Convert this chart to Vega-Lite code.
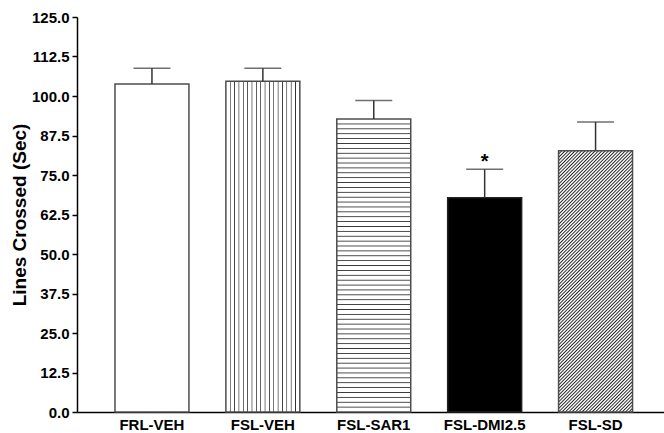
{
  "$schema": "https://vega.github.io/schema/vega-lite/v6.json",
  "width": 587,
  "height": 395,
  "autosize": "none",
  "padding": {"left": 77, "top": 17, "right": 0, "bottom": 21},
  "background": "white",
  "config": {"view": {"stroke": null}, "font": "Liberation Sans"},
  "data": {"values": [
    {"group": "FRL-VEH", "mean": 103.8, "upper": 108.8, "sig": ""},
    {"group": "FSL-VEH", "mean": 104.7, "upper": 108.8, "sig": ""},
    {"group": "FSL-SAR1", "mean": 92.7, "upper": 98.6, "sig": ""},
    {"group": "FSL-DMI2.5", "mean": 67.8, "upper": 76.8, "sig": "*"},
    {"group": "FSL-SD", "mean": 82.7, "upper": 91.8, "sig": ""}
  ]},
  "encoding": {
    "x": {
      "field": "group", "type": "nominal", "sort": null,
      "scale": {"domain": ["FRL-VEH", "FSL-VEH", "FSL-SAR1", "FSL-DMI2.5", "FSL-SD"], "paddingInner": 0.333, "paddingOuter": 0.313, "align": 0.547},
      "axis": {"title": null, "labelAngle": 0, "ticks": false, "labelPadding": 5, "labelFontSize": 15, "labelFontWeight": "bold", "labelColor": "black", "domainColor": "black", "domainWidth": 1.5}
    },
    "y": {"field": "mean", "type": "quantitative", "scale": {"domain": [0, 125], "nice": false},
      "axis": {"title": "Lines Crossed (Sec)", "values": [0, 12.5, 25, 37.5, 50, 62.5, 75, 87.5, 100, 112.5, 125], "format": ".1f", "grid": false, "labelOverlap": false, "labelFontSize": 15, "labelFontWeight": "bold", "labelColor": "black", "labelPadding": 3, "tickColor": "black", "tickSize": 5, "tickWidth": 1.5, "domainColor": "black", "domainWidth": 1.5, "titleFontSize": 19, "titleFontWeight": "bold", "titleColor": "black", "titlePadding": 2}}
  },
  "layer": [
    {
      "transform": [{"filter": "datum.group == 'FRL-VEH'"}],
      "mark": {"type": "bar", "fill": "white", "stroke": "#4d4d4d", "strokeWidth": 1.5}
    },
    {
      "transform": [{"filter": "datum.group == 'FSL-VEH'"}],
      "mark": {"type": "bar", "stroke": "#4d4d4d", "strokeWidth": 1.5,
        "fill": {"gradient": "linear", "x1": 0, "y1": 0, "x2": 1, "y2": 0, "stops": [
          {"offset": 0, "color": "#fff"},
          {"offset": 0.0488, "color": "#fff"}, {"offset": 0.0588, "color": "#333"}, {"offset": 0.0688, "color": "#fff"},
          {"offset": 0.1076, "color": "#fff"}, {"offset": 0.1176, "color": "#333"}, {"offset": 0.1276, "color": "#fff"},
          {"offset": 0.1665, "color": "#fff"}, {"offset": 0.1765, "color": "#333"}, {"offset": 0.1865, "color": "#fff"},
          {"offset": 0.2253, "color": "#fff"}, {"offset": 0.2353, "color": "#333"}, {"offset": 0.2453, "color": "#fff"},
          {"offset": 0.2841, "color": "#fff"}, {"offset": 0.2941, "color": "#333"}, {"offset": 0.3041, "color": "#fff"},
          {"offset": 0.3429, "color": "#fff"}, {"offset": 0.3529, "color": "#333"}, {"offset": 0.3629, "color": "#fff"},
          {"offset": 0.4018, "color": "#fff"}, {"offset": 0.4118, "color": "#333"}, {"offset": 0.4218, "color": "#fff"},
          {"offset": 0.4606, "color": "#fff"}, {"offset": 0.4706, "color": "#333"}, {"offset": 0.4806, "color": "#fff"},
          {"offset": 0.5194, "color": "#fff"}, {"offset": 0.5294, "color": "#333"}, {"offset": 0.5394, "color": "#fff"},
          {"offset": 0.5782, "color": "#fff"}, {"offset": 0.5882, "color": "#333"}, {"offset": 0.5982, "color": "#fff"},
          {"offset": 0.6371, "color": "#fff"}, {"offset": 0.6471, "color": "#333"}, {"offset": 0.6571, "color": "#fff"},
          {"offset": 0.6959, "color": "#fff"}, {"offset": 0.7059, "color": "#333"}, {"offset": 0.7159, "color": "#fff"},
          {"offset": 0.7547, "color": "#fff"}, {"offset": 0.7647, "color": "#333"}, {"offset": 0.7747, "color": "#fff"},
          {"offset": 0.8135, "color": "#fff"}, {"offset": 0.8235, "color": "#333"}, {"offset": 0.8335, "color": "#fff"},
          {"offset": 0.8724, "color": "#fff"}, {"offset": 0.8824, "color": "#333"}, {"offset": 0.8924, "color": "#fff"},
          {"offset": 0.9312, "color": "#fff"}, {"offset": 0.9412, "color": "#333"}, {"offset": 0.9512, "color": "#fff"},
          {"offset": 1, "color": "#fff"}
        ]}}
    },
    {
      "transform": [{"filter": "datum.group == 'FSL-SAR1'"}],
      "mark": {"type": "bar", "stroke": "#4d4d4d", "strokeWidth": 1.5,
        "fill": {"gradient": "linear", "x1": 0, "y1": 0, "x2": 0, "y2": 1, "stops": [
          {"offset": 0, "color": "#fff"},
          {"offset": 0.0137, "color": "#fff"}, {"offset": 0.0167, "color": "#333"}, {"offset": 0.0197, "color": "#fff"},
          {"offset": 0.0303, "color": "#fff"}, {"offset": 0.0333, "color": "#333"}, {"offset": 0.0363, "color": "#fff"},
          {"offset": 0.047, "color": "#fff"}, {"offset": 0.05, "color": "#333"}, {"offset": 0.053, "color": "#fff"},
          {"offset": 0.0637, "color": "#fff"}, {"offset": 0.0667, "color": "#333"}, {"offset": 0.0697, "color": "#fff"},
          {"offset": 0.0803, "color": "#fff"}, {"offset": 0.0833, "color": "#333"}, {"offset": 0.0863, "color": "#fff"},
          {"offset": 0.097, "color": "#fff"}, {"offset": 0.1, "color": "#333"}, {"offset": 0.103, "color": "#fff"},
          {"offset": 0.1137, "color": "#fff"}, {"offset": 0.1167, "color": "#333"}, {"offset": 0.1197, "color": "#fff"},
          {"offset": 0.1303, "color": "#fff"}, {"offset": 0.1333, "color": "#333"}, {"offset": 0.1363, "color": "#fff"},
          {"offset": 0.147, "color": "#fff"}, {"offset": 0.15, "color": "#333"}, {"offset": 0.153, "color": "#fff"},
          {"offset": 0.1637, "color": "#fff"}, {"offset": 0.1667, "color": "#333"}, {"offset": 0.1697, "color": "#fff"},
          {"offset": 0.1803, "color": "#fff"}, {"offset": 0.1833, "color": "#333"}, {"offset": 0.1863, "color": "#fff"},
          {"offset": 0.197, "color": "#fff"}, {"offset": 0.2, "color": "#333"}, {"offset": 0.203, "color": "#fff"},
          {"offset": 0.2137, "color": "#fff"}, {"offset": 0.2167, "color": "#333"}, {"offset": 0.2197, "color": "#fff"},
          {"offset": 0.2303, "color": "#fff"}, {"offset": 0.2333, "color": "#333"}, {"offset": 0.2363, "color": "#fff"},
          {"offset": 0.247, "color": "#fff"}, {"offset": 0.25, "color": "#333"}, {"offset": 0.253, "color": "#fff"},
          {"offset": 0.2637, "color": "#fff"}, {"offset": 0.2667, "color": "#333"}, {"offset": 0.2697, "color": "#fff"},
          {"offset": 0.2803, "color": "#fff"}, {"offset": 0.2833, "color": "#333"}, {"offset": 0.2863, "color": "#fff"},
          {"offset": 0.297, "color": "#fff"}, {"offset": 0.3, "color": "#333"}, {"offset": 0.303, "color": "#fff"},
          {"offset": 0.3137, "color": "#fff"}, {"offset": 0.3167, "color": "#333"}, {"offset": 0.3197, "color": "#fff"},
          {"offset": 0.3303, "color": "#fff"}, {"offset": 0.3333, "color": "#333"}, {"offset": 0.3363, "color": "#fff"},
          {"offset": 0.347, "color": "#fff"}, {"offset": 0.35, "color": "#333"}, {"offset": 0.353, "color": "#fff"},
          {"offset": 0.3637, "color": "#fff"}, {"offset": 0.3667, "color": "#333"}, {"offset": 0.3697, "color": "#fff"},
          {"offset": 0.3803, "color": "#fff"}, {"offset": 0.3833, "color": "#333"}, {"offset": 0.3863, "color": "#fff"},
          {"offset": 0.397, "color": "#fff"}, {"offset": 0.4, "color": "#333"}, {"offset": 0.403, "color": "#fff"},
          {"offset": 0.4137, "color": "#fff"}, {"offset": 0.4167, "color": "#333"}, {"offset": 0.4197, "color": "#fff"},
          {"offset": 0.4303, "color": "#fff"}, {"offset": 0.4333, "color": "#333"}, {"offset": 0.4363, "color": "#fff"},
          {"offset": 0.447, "color": "#fff"}, {"offset": 0.45, "color": "#333"}, {"offset": 0.453, "color": "#fff"},
          {"offset": 0.4637, "color": "#fff"}, {"offset": 0.4667, "color": "#333"}, {"offset": 0.4697, "color": "#fff"},
          {"offset": 0.4803, "color": "#fff"}, {"offset": 0.4833, "color": "#333"}, {"offset": 0.4863, "color": "#fff"},
          {"offset": 0.497, "color": "#fff"}, {"offset": 0.5, "color": "#333"}, {"offset": 0.503, "color": "#fff"},
          {"offset": 0.5137, "color": "#fff"}, {"offset": 0.5167, "color": "#333"}, {"offset": 0.5197, "color": "#fff"},
          {"offset": 0.5303, "color": "#fff"}, {"offset": 0.5333, "color": "#333"}, {"offset": 0.5363, "color": "#fff"},
          {"offset": 0.547, "color": "#fff"}, {"offset": 0.55, "color": "#333"}, {"offset": 0.553, "color": "#fff"},
          {"offset": 0.5637, "color": "#fff"}, {"offset": 0.5667, "color": "#333"}, {"offset": 0.5697, "color": "#fff"},
          {"offset": 0.5803, "color": "#fff"}, {"offset": 0.5833, "color": "#333"}, {"offset": 0.5863, "color": "#fff"},
          {"offset": 0.597, "color": "#fff"}, {"offset": 0.6, "color": "#333"}, {"offset": 0.603, "color": "#fff"},
          {"offset": 0.6137, "color": "#fff"}, {"offset": 0.6167, "color": "#333"}, {"offset": 0.6197, "color": "#fff"},
          {"offset": 0.6303, "color": "#fff"}, {"offset": 0.6333, "color": "#333"}, {"offset": 0.6363, "color": "#fff"},
          {"offset": 0.647, "color": "#fff"}, {"offset": 0.65, "color": "#333"}, {"offset": 0.653, "color": "#fff"},
          {"offset": 0.6637, "color": "#fff"}, {"offset": 0.6667, "color": "#333"}, {"offset": 0.6697, "color": "#fff"},
          {"offset": 0.6803, "color": "#fff"}, {"offset": 0.6833, "color": "#333"}, {"offset": 0.6863, "color": "#fff"},
          {"offset": 0.697, "color": "#fff"}, {"offset": 0.7, "color": "#333"}, {"offset": 0.703, "color": "#fff"},
          {"offset": 0.7137, "color": "#fff"}, {"offset": 0.7167, "color": "#333"}, {"offset": 0.7197, "color": "#fff"},
          {"offset": 0.7303, "color": "#fff"}, {"offset": 0.7333, "color": "#333"}, {"offset": 0.7363, "color": "#fff"},
          {"offset": 0.747, "color": "#fff"}, {"offset": 0.75, "color": "#333"}, {"offset": 0.753, "color": "#fff"},
          {"offset": 0.7637, "color": "#fff"}, {"offset": 0.7667, "color": "#333"}, {"offset": 0.7697, "color": "#fff"},
          {"offset": 0.7803, "color": "#fff"}, {"offset": 0.7833, "color": "#333"}, {"offset": 0.7863, "color": "#fff"},
          {"offset": 0.797, "color": "#fff"}, {"offset": 0.8, "color": "#333"}, {"offset": 0.803, "color": "#fff"},
          {"offset": 0.8137, "color": "#fff"}, {"offset": 0.8167, "color": "#333"}, {"offset": 0.8197, "color": "#fff"},
          {"offset": 0.8303, "color": "#fff"}, {"offset": 0.8333, "color": "#333"}, {"offset": 0.8363, "color": "#fff"},
          {"offset": 0.847, "color": "#fff"}, {"offset": 0.85, "color": "#333"}, {"offset": 0.853, "color": "#fff"},
          {"offset": 0.8637, "color": "#fff"}, {"offset": 0.8667, "color": "#333"}, {"offset": 0.8697, "color": "#fff"},
          {"offset": 0.8803, "color": "#fff"}, {"offset": 0.8833, "color": "#333"}, {"offset": 0.8863, "color": "#fff"},
          {"offset": 0.897, "color": "#fff"}, {"offset": 0.9, "color": "#333"}, {"offset": 0.903, "color": "#fff"},
          {"offset": 0.9137, "color": "#fff"}, {"offset": 0.9167, "color": "#333"}, {"offset": 0.9197, "color": "#fff"},
          {"offset": 0.9303, "color": "#fff"}, {"offset": 0.9333, "color": "#333"}, {"offset": 0.9363, "color": "#fff"},
          {"offset": 0.947, "color": "#fff"}, {"offset": 0.95, "color": "#333"}, {"offset": 0.953, "color": "#fff"},
          {"offset": 0.9637, "color": "#fff"}, {"offset": 0.9667, "color": "#333"}, {"offset": 0.9697, "color": "#fff"},
          {"offset": 0.9803, "color": "#fff"}, {"offset": 0.9833, "color": "#333"}, {"offset": 0.9863, "color": "#fff"},
          {"offset": 1, "color": "#fff"}
        ]}}
    },
    {
      "transform": [{"filter": "datum.group == 'FSL-DMI2.5'"}],
      "mark": {"type": "bar", "fill": "black", "stroke": "#222", "strokeWidth": 1.5}
    },
    {
      "transform": [{"filter": "datum.group == 'FSL-SD'"}],
      "mark": {"type": "bar", "stroke": "#4d4d4d", "strokeWidth": 1.5,
        "fill": {"gradient": "linear", "x1": 0, "y1": 0, "x2": 0.3364, "y2": 1.1866, "stops": [
          {"offset": 0, "color": "#222"}, {"offset": 0.004, "color": "#fff"}, {"offset": 0.006, "color": "#fff"},
          {"offset": 0.01, "color": "#222"}, {"offset": 0.014, "color": "#fff"}, {"offset": 0.016, "color": "#fff"},
          {"offset": 0.02, "color": "#222"}, {"offset": 0.024, "color": "#fff"}, {"offset": 0.026, "color": "#fff"},
          {"offset": 0.03, "color": "#222"}, {"offset": 0.034, "color": "#fff"}, {"offset": 0.036, "color": "#fff"},
          {"offset": 0.04, "color": "#222"}, {"offset": 0.044, "color": "#fff"}, {"offset": 0.046, "color": "#fff"},
          {"offset": 0.05, "color": "#222"}, {"offset": 0.054, "color": "#fff"}, {"offset": 0.056, "color": "#fff"},
          {"offset": 0.06, "color": "#222"}, {"offset": 0.064, "color": "#fff"}, {"offset": 0.066, "color": "#fff"},
          {"offset": 0.07, "color": "#222"}, {"offset": 0.074, "color": "#fff"}, {"offset": 0.076, "color": "#fff"},
          {"offset": 0.08, "color": "#222"}, {"offset": 0.084, "color": "#fff"}, {"offset": 0.086, "color": "#fff"},
          {"offset": 0.09, "color": "#222"}, {"offset": 0.094, "color": "#fff"}, {"offset": 0.096, "color": "#fff"},
          {"offset": 0.1, "color": "#222"}, {"offset": 0.104, "color": "#fff"}, {"offset": 0.106, "color": "#fff"},
          {"offset": 0.11, "color": "#222"}, {"offset": 0.114, "color": "#fff"}, {"offset": 0.116, "color": "#fff"},
          {"offset": 0.12, "color": "#222"}, {"offset": 0.124, "color": "#fff"}, {"offset": 0.126, "color": "#fff"},
          {"offset": 0.13, "color": "#222"}, {"offset": 0.134, "color": "#fff"}, {"offset": 0.136, "color": "#fff"},
          {"offset": 0.14, "color": "#222"}, {"offset": 0.144, "color": "#fff"}, {"offset": 0.146, "color": "#fff"},
          {"offset": 0.15, "color": "#222"}, {"offset": 0.154, "color": "#fff"}, {"offset": 0.156, "color": "#fff"},
          {"offset": 0.16, "color": "#222"}, {"offset": 0.164, "color": "#fff"}, {"offset": 0.166, "color": "#fff"},
          {"offset": 0.17, "color": "#222"}, {"offset": 0.174, "color": "#fff"}, {"offset": 0.176, "color": "#fff"},
          {"offset": 0.18, "color": "#222"}, {"offset": 0.184, "color": "#fff"}, {"offset": 0.186, "color": "#fff"},
          {"offset": 0.19, "color": "#222"}, {"offset": 0.194, "color": "#fff"}, {"offset": 0.196, "color": "#fff"},
          {"offset": 0.2, "color": "#222"}, {"offset": 0.204, "color": "#fff"}, {"offset": 0.206, "color": "#fff"},
          {"offset": 0.21, "color": "#222"}, {"offset": 0.214, "color": "#fff"}, {"offset": 0.216, "color": "#fff"},
          {"offset": 0.22, "color": "#222"}, {"offset": 0.224, "color": "#fff"}, {"offset": 0.226, "color": "#fff"},
          {"offset": 0.23, "color": "#222"}, {"offset": 0.234, "color": "#fff"}, {"offset": 0.236, "color": "#fff"},
          {"offset": 0.24, "color": "#222"}, {"offset": 0.244, "color": "#fff"}, {"offset": 0.246, "color": "#fff"},
          {"offset": 0.25, "color": "#222"}, {"offset": 0.254, "color": "#fff"}, {"offset": 0.256, "color": "#fff"},
          {"offset": 0.26, "color": "#222"}, {"offset": 0.264, "color": "#fff"}, {"offset": 0.266, "color": "#fff"},
          {"offset": 0.27, "color": "#222"}, {"offset": 0.274, "color": "#fff"}, {"offset": 0.276, "color": "#fff"},
          {"offset": 0.28, "color": "#222"}, {"offset": 0.284, "color": "#fff"}, {"offset": 0.286, "color": "#fff"},
          {"offset": 0.29, "color": "#222"}, {"offset": 0.294, "color": "#fff"}, {"offset": 0.296, "color": "#fff"},
          {"offset": 0.3, "color": "#222"}, {"offset": 0.304, "color": "#fff"}, {"offset": 0.306, "color": "#fff"},
          {"offset": 0.31, "color": "#222"}, {"offset": 0.314, "color": "#fff"}, {"offset": 0.316, "color": "#fff"},
          {"offset": 0.32, "color": "#222"}, {"offset": 0.324, "color": "#fff"}, {"offset": 0.326, "color": "#fff"},
          {"offset": 0.33, "color": "#222"}, {"offset": 0.334, "color": "#fff"}, {"offset": 0.336, "color": "#fff"},
          {"offset": 0.34, "color": "#222"}, {"offset": 0.344, "color": "#fff"}, {"offset": 0.346, "color": "#fff"},
          {"offset": 0.35, "color": "#222"}, {"offset": 0.354, "color": "#fff"}, {"offset": 0.356, "color": "#fff"},
          {"offset": 0.36, "color": "#222"}, {"offset": 0.364, "color": "#fff"}, {"offset": 0.366, "color": "#fff"},
          {"offset": 0.37, "color": "#222"}, {"offset": 0.374, "color": "#fff"}, {"offset": 0.376, "color": "#fff"},
          {"offset": 0.38, "color": "#222"}, {"offset": 0.384, "color": "#fff"}, {"offset": 0.386, "color": "#fff"},
          {"offset": 0.39, "color": "#222"}, {"offset": 0.394, "color": "#fff"}, {"offset": 0.396, "color": "#fff"},
          {"offset": 0.4, "color": "#222"}, {"offset": 0.404, "color": "#fff"}, {"offset": 0.406, "color": "#fff"},
          {"offset": 0.41, "color": "#222"}, {"offset": 0.414, "color": "#fff"}, {"offset": 0.416, "color": "#fff"},
          {"offset": 0.42, "color": "#222"}, {"offset": 0.424, "color": "#fff"}, {"offset": 0.426, "color": "#fff"},
          {"offset": 0.43, "color": "#222"}, {"offset": 0.434, "color": "#fff"}, {"offset": 0.436, "color": "#fff"},
          {"offset": 0.44, "color": "#222"}, {"offset": 0.444, "color": "#fff"}, {"offset": 0.446, "color": "#fff"},
          {"offset": 0.45, "color": "#222"}, {"offset": 0.454, "color": "#fff"}, {"offset": 0.456, "color": "#fff"},
          {"offset": 0.46, "color": "#222"}, {"offset": 0.464, "color": "#fff"}, {"offset": 0.466, "color": "#fff"},
          {"offset": 0.47, "color": "#222"}, {"offset": 0.474, "color": "#fff"}, {"offset": 0.476, "color": "#fff"},
          {"offset": 0.48, "color": "#222"}, {"offset": 0.484, "color": "#fff"}, {"offset": 0.486, "color": "#fff"},
          {"offset": 0.49, "color": "#222"}, {"offset": 0.494, "color": "#fff"}, {"offset": 0.496, "color": "#fff"},
          {"offset": 0.5, "color": "#222"}, {"offset": 0.504, "color": "#fff"}, {"offset": 0.506, "color": "#fff"},
          {"offset": 0.51, "color": "#222"}, {"offset": 0.514, "color": "#fff"}, {"offset": 0.516, "color": "#fff"},
          {"offset": 0.52, "color": "#222"}, {"offset": 0.524, "color": "#fff"}, {"offset": 0.526, "color": "#fff"},
          {"offset": 0.53, "color": "#222"}, {"offset": 0.534, "color": "#fff"}, {"offset": 0.536, "color": "#fff"},
          {"offset": 0.54, "color": "#222"}, {"offset": 0.544, "color": "#fff"}, {"offset": 0.546, "color": "#fff"},
          {"offset": 0.55, "color": "#222"}, {"offset": 0.554, "color": "#fff"}, {"offset": 0.556, "color": "#fff"},
          {"offset": 0.56, "color": "#222"}, {"offset": 0.564, "color": "#fff"}, {"offset": 0.566, "color": "#fff"},
          {"offset": 0.57, "color": "#222"}, {"offset": 0.574, "color": "#fff"}, {"offset": 0.576, "color": "#fff"},
          {"offset": 0.58, "color": "#222"}, {"offset": 0.584, "color": "#fff"}, {"offset": 0.586, "color": "#fff"},
          {"offset": 0.59, "color": "#222"}, {"offset": 0.594, "color": "#fff"}, {"offset": 0.596, "color": "#fff"},
          {"offset": 0.6, "color": "#222"}, {"offset": 0.604, "color": "#fff"}, {"offset": 0.606, "color": "#fff"},
          {"offset": 0.61, "color": "#222"}, {"offset": 0.614, "color": "#fff"}, {"offset": 0.616, "color": "#fff"},
          {"offset": 0.62, "color": "#222"}, {"offset": 0.624, "color": "#fff"}, {"offset": 0.626, "color": "#fff"},
          {"offset": 0.63, "color": "#222"}, {"offset": 0.634, "color": "#fff"}, {"offset": 0.636, "color": "#fff"},
          {"offset": 0.64, "color": "#222"}, {"offset": 0.644, "color": "#fff"}, {"offset": 0.646, "color": "#fff"},
          {"offset": 0.65, "color": "#222"}, {"offset": 0.654, "color": "#fff"}, {"offset": 0.656, "color": "#fff"},
          {"offset": 0.66, "color": "#222"}, {"offset": 0.664, "color": "#fff"}, {"offset": 0.666, "color": "#fff"},
          {"offset": 0.67, "color": "#222"}, {"offset": 0.674, "color": "#fff"}, {"offset": 0.676, "color": "#fff"},
          {"offset": 0.68, "color": "#222"}, {"offset": 0.684, "color": "#fff"}, {"offset": 0.686, "color": "#fff"},
          {"offset": 0.69, "color": "#222"}, {"offset": 0.694, "color": "#fff"}, {"offset": 0.696, "color": "#fff"},
          {"offset": 0.7, "color": "#222"}, {"offset": 0.704, "color": "#fff"}, {"offset": 0.706, "color": "#fff"},
          {"offset": 0.71, "color": "#222"}, {"offset": 0.714, "color": "#fff"}, {"offset": 0.716, "color": "#fff"},
          {"offset": 0.72, "color": "#222"}, {"offset": 0.724, "color": "#fff"}, {"offset": 0.726, "color": "#fff"},
          {"offset": 0.73, "color": "#222"}, {"offset": 0.734, "color": "#fff"}, {"offset": 0.736, "color": "#fff"},
          {"offset": 0.74, "color": "#222"}, {"offset": 0.744, "color": "#fff"}, {"offset": 0.746, "color": "#fff"},
          {"offset": 0.75, "color": "#222"}, {"offset": 0.754, "color": "#fff"}, {"offset": 0.756, "color": "#fff"},
          {"offset": 0.76, "color": "#222"}, {"offset": 0.764, "color": "#fff"}, {"offset": 0.766, "color": "#fff"},
          {"offset": 0.77, "color": "#222"}, {"offset": 0.774, "color": "#fff"}, {"offset": 0.776, "color": "#fff"},
          {"offset": 0.78, "color": "#222"}, {"offset": 0.784, "color": "#fff"}, {"offset": 0.786, "color": "#fff"},
          {"offset": 0.79, "color": "#222"}, {"offset": 0.794, "color": "#fff"}, {"offset": 0.796, "color": "#fff"},
          {"offset": 0.8, "color": "#222"}, {"offset": 0.804, "color": "#fff"}, {"offset": 0.806, "color": "#fff"},
          {"offset": 0.81, "color": "#222"}, {"offset": 0.814, "color": "#fff"}, {"offset": 0.816, "color": "#fff"},
          {"offset": 0.82, "color": "#222"}, {"offset": 0.824, "color": "#fff"}, {"offset": 0.826, "color": "#fff"},
          {"offset": 0.83, "color": "#222"}, {"offset": 0.834, "color": "#fff"}, {"offset": 0.836, "color": "#fff"},
          {"offset": 0.84, "color": "#222"}, {"offset": 0.844, "color": "#fff"}, {"offset": 0.846, "color": "#fff"},
          {"offset": 0.85, "color": "#222"}, {"offset": 0.854, "color": "#fff"}, {"offset": 0.856, "color": "#fff"},
          {"offset": 0.86, "color": "#222"}, {"offset": 0.864, "color": "#fff"}, {"offset": 0.866, "color": "#fff"},
          {"offset": 0.87, "color": "#222"}, {"offset": 0.874, "color": "#fff"}, {"offset": 0.876, "color": "#fff"},
          {"offset": 0.88, "color": "#222"}, {"offset": 0.884, "color": "#fff"}, {"offset": 0.886, "color": "#fff"},
          {"offset": 0.89, "color": "#222"}, {"offset": 0.894, "color": "#fff"}, {"offset": 0.896, "color": "#fff"},
          {"offset": 0.9, "color": "#222"}, {"offset": 0.904, "color": "#fff"}, {"offset": 0.906, "color": "#fff"},
          {"offset": 0.91, "color": "#222"}, {"offset": 0.914, "color": "#fff"}, {"offset": 0.916, "color": "#fff"},
          {"offset": 0.92, "color": "#222"}, {"offset": 0.924, "color": "#fff"}, {"offset": 0.926, "color": "#fff"},
          {"offset": 0.93, "color": "#222"}, {"offset": 0.934, "color": "#fff"}, {"offset": 0.936, "color": "#fff"},
          {"offset": 0.94, "color": "#222"}, {"offset": 0.944, "color": "#fff"}, {"offset": 0.946, "color": "#fff"},
          {"offset": 0.95, "color": "#222"}, {"offset": 0.954, "color": "#fff"}, {"offset": 0.956, "color": "#fff"},
          {"offset": 0.96, "color": "#222"}, {"offset": 0.964, "color": "#fff"}, {"offset": 0.966, "color": "#fff"},
          {"offset": 0.97, "color": "#222"}, {"offset": 0.974, "color": "#fff"}, {"offset": 0.976, "color": "#fff"},
          {"offset": 0.98, "color": "#222"}, {"offset": 0.984, "color": "#fff"}, {"offset": 0.986, "color": "#fff"},
          {"offset": 0.99, "color": "#222"}, {"offset": 0.994, "color": "#fff"}, {"offset": 0.996, "color": "#fff"},
          {"offset": 1, "color": "#222"}
        ]}}
    },
    {
      "mark": {"type": "rule", "color": "#333", "strokeWidth": 1.5},
      "encoding": {"y2": {"field": "upper"}}
    },
    {
      "mark": {"type": "tick", "color": "#333", "size": 37, "thickness": 1.5},
      "encoding": {"y": {"field": "upper", "type": "quantitative", "axis": {"title": "Lines Crossed (Sec)", "values": [0, 12.5, 25, 37.5, 50, 62.5, 75, 87.5, 100, 112.5, 125], "format": ".1f", "grid": false, "labelOverlap": false, "labelFontSize": 15, "labelFontWeight": "bold", "labelColor": "black", "labelPadding": 3, "tickColor": "black", "tickSize": 5, "tickWidth": 1.5, "domainColor": "black", "domainWidth": 1.5, "titleFontSize": 19, "titleFontWeight": "bold", "titleColor": "black", "titlePadding": 2}}}
    },
    {
      "mark": {"type": "text", "fontSize": 20, "fontWeight": "bold", "color": "black", "baseline": "alphabetic", "dy": -1},
      "encoding": {
        "y": {"field": "upper", "type": "quantitative", "axis": {"title": "Lines Crossed (Sec)", "values": [0, 12.5, 25, 37.5, 50, 62.5, 75, 87.5, 100, 112.5, 125], "format": ".1f", "grid": false, "labelOverlap": false, "labelFontSize": 15, "labelFontWeight": "bold", "labelColor": "black", "labelPadding": 3, "tickColor": "black", "tickSize": 5, "tickWidth": 1.5, "domainColor": "black", "domainWidth": 1.5, "titleFontSize": 19, "titleFontWeight": "bold", "titleColor": "black", "titlePadding": 2}},
        "text": {"field": "sig"}
      }
    }
  ]
}
